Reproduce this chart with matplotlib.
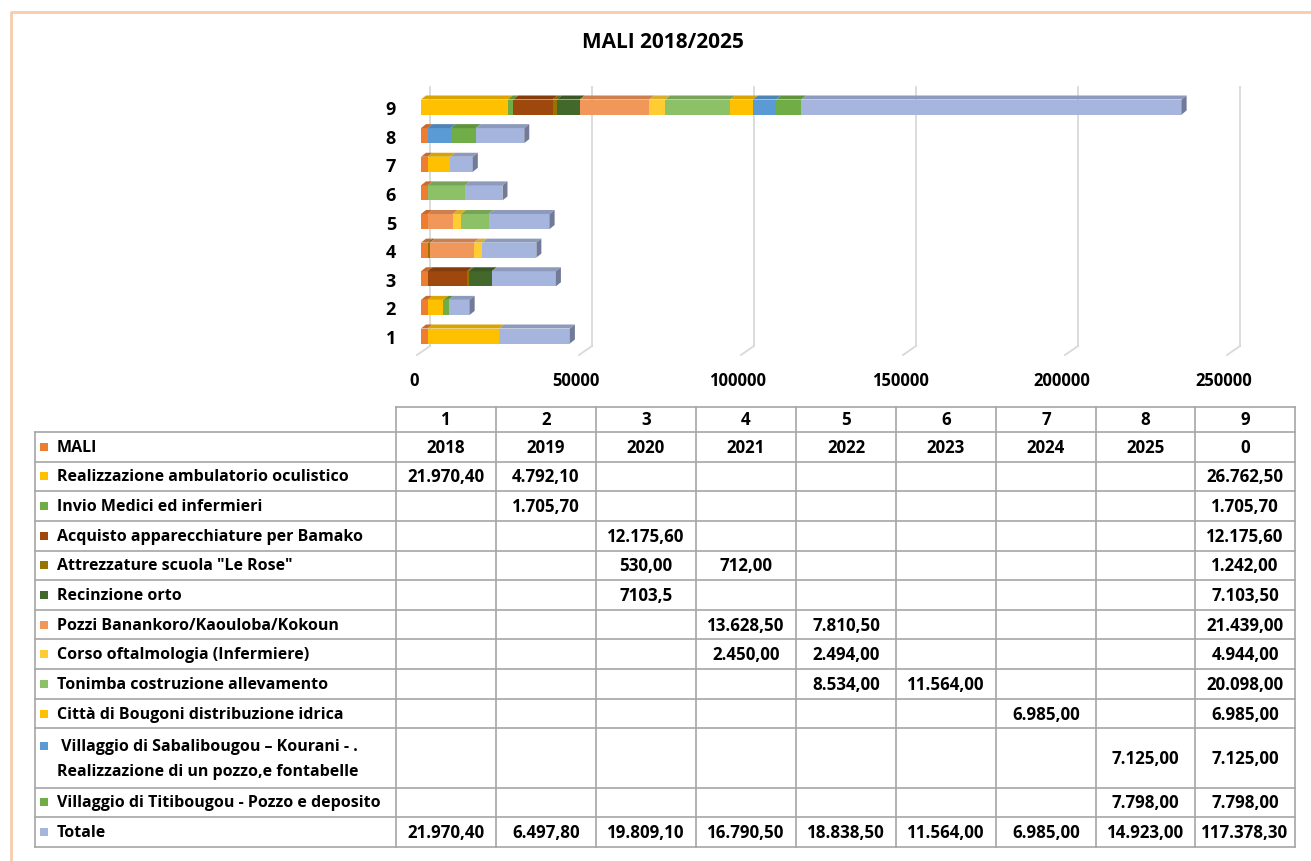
import numpy as np
import matplotlib
matplotlib.use("Agg")
import matplotlib.pyplot as plt
from matplotlib import transforms
from matplotlib.patches import Polygon, Rectangle

plt.rcParams['font.family'] = ['Open Sans', 'DejaVu Sans']
plt.rcParams['font.weight'] = 'bold'

# ---------------- data ----------------
categories = ["1", "2", "3", "4", "5", "6", "7", "8", "9"]
nan = np.nan
mali = [2018, 2019, 2020, 2021, 2022, 2023, 2024, 2025, 0]
ambulatorio = [21970.40, 4792.10, nan, nan, nan, nan, nan, nan, 26762.50]
medici = [nan, 1705.70, nan, nan, nan, nan, nan, nan, 1705.70]
bamako = [nan, nan, 12175.60, nan, nan, nan, nan, nan, 12175.60]
le_rose = [nan, nan, 530.00, 712.00, nan, nan, nan, nan, 1242.00]
orto = [nan, nan, 7103.5, nan, nan, nan, nan, nan, 7103.50]
pozzi = [nan, nan, nan, 13628.50, 7810.50, nan, nan, nan, 21439.00]
corso = [nan, nan, nan, 2450.00, 2494.00, nan, nan, nan, 4944.00]
tonimba = [nan, nan, nan, nan, 8534.00, 11564.00, nan, nan, 20098.00]
bougoni = [nan, nan, nan, nan, nan, nan, 6985.00, nan, 6985.00]
sabalibougou = [nan, nan, nan, nan, nan, nan, nan, 7125.00, 7125.00]
titibougou = [nan, nan, nan, nan, nan, nan, nan, 7798.00, 7798.00]
totale = [21970.40, 6497.80, 19809.10, 16790.50, 18838.50, 11564.00, 6985.00, 14923.00, 117378.30]

series_names = ["MALI", "Realizzazione ambulatorio oculistico", "Invio Medici ed infermieri",
                "Acquisto apparecchiature per Bamako", "Attrezzature scuola \"Le Rose\"",
                "Recinzione orto", "Pozzi Banankoro/Kaouloba/Kokoun",
                "Corso oftalmologia (Infermiere)", "Tonimba costruzione allevamento",
                "Città di Bougoni distribuzione idrica",
                " Villaggio di Sabalibougou – Kourani - .\nRealizzazione di un pozzo,e fontabelle",
                "Villaggio di Titibougou - Pozzo e deposito", "Totale"]
series_values = [mali, ambulatorio, medici, bamako, le_rose, orto, pozzi, corso,
                 tonimba, bougoni, sabalibougou, titibougou, totale]
series_colors = ["#ED7D31", "#FFC000", "#70AD47", "#9E480E", "#997300", "#43682B",
                 "#F1975A", "#FFCD33", "#8CC168", "#FFC000", "#5B9BD5", "#70AD47", "#A6B5DE"]
# cells whose text in the source table is not in the usual format
raw_cell_text = {(5, 2): "7103,5"}

title = "MALI 2018/2025"
xticks = [0, 50000, 100000, 150000, 200000, 250000]

FS = 11.5
FSN = 12.2

# ---------------- figure ----------------
W, H = 1311, 862
fig = plt.figure(figsize=(W / 100, H / 100), dpi=100)

# overlay in pixel coordinates for frame and table
ov = fig.add_axes([0, 0, 1, 1])
ov.set_xlim(0, W)
ov.set_ylim(H, 0)
ov.axis("off")

# chart-area border (peach)
ov.plot([11, 11, W], [H, 13, 13], color="#F8CBAD", lw=2, solid_capstyle="butt")

ov.text(663, 43, title, ha="center", va="center", fontsize=15, fontweight="bold")

# ---------------- bar chart ----------------
ax_l, ax_r, ax_t, ax_b = 421, 1231, 88, 355
ax = fig.add_axes([ax_l / W, 1 - ax_b / H, (ax_r - ax_l) / W, (ax_b - ax_t) / H])
ax.set_xlim(0, 250000)
ypos = np.arange(1, len(categories) + 1)
unit_px = 28.625
ax.set_ylim(1 - (ax_b - 337) / unit_px, 9 + (108 - ax_t) / unit_px)
for s in ax.spines.values():
    s.set_visible(False)
ax.patch.set_alpha(0)

px_x = 250000 / (ax_r - ax_l)
px_y = (ax.get_ylim()[1] - ax.get_ylim()[0]) / (ax_b - ax_t)

# gridlines (back wall + floor diagonal)
dpi_tr = fig.dpi_scale_trans
blend = transforms.blended_transform_factory(ax.transData, ax.transAxes)
for xv in xticks:
    back = blend + transforms.ScaledTranslation(9 / 100, 0, dpi_tr)
    ax.plot([xv, xv], [8 / (ax_b - ax_t), 1], color="#D9D9D9", lw=1.3, transform=back,
            clip_on=False, zorder=0)
    ax.plot([xv + 9 * px_x, xv - 4 * px_x], [8 / (ax_b - ax_t), -1 / (ax_b - ax_t)],
            color="#D9D9D9", lw=1.3, transform=blend, clip_on=False, zorder=0)

bar_h = 15 / unit_px
dx, dy = 5 * px_x, 4 * px_y


def darker(c, f):
    r, g, b = matplotlib.colors.to_rgb(c)
    return (r * f, g * f, b * f)


for i, yv in enumerate(ypos):
    left = 0.0
    last = None
    for vals, col in zip(series_values, series_colors):
        v = vals[i]
        if v is None or np.isnan(v) or v <= 0:
            continue
        ax.barh(yv, v, left=left, height=bar_h, color=col, edgecolor="none", zorder=2)
        top = yv + bar_h / 2
        ax.add_patch(Polygon([(left, top), (left + v, top), (left + v + dx, top + dy),
                              (left + dx, top + dy)], closed=True,
                             facecolor=darker(col, 0.85), edgecolor="none", zorder=2))
        left += v
        last = col
    if last is not None:
        bot = yv - bar_h / 2
        top = yv + bar_h / 2
        ax.add_patch(Polygon([(left, bot), (left, top), (left + dx, top + dy),
                              (left + dx, bot + dy)], closed=True,
                             facecolor=darker(last, 0.68), edgecolor="none", zorder=3))

ax.set_yticks(ypos, categories)
ax.set_xticks(xticks, [str(t) for t in xticks])
ax.tick_params(axis="both", length=0)
ax.tick_params(axis="y", pad=18, labelsize=13)
ax.tick_params(axis="x", pad=12, labelsize=12)
for lab in ax.get_xticklabels():
    lab.set_transform(lab.get_transform() + transforms.ScaledTranslation(-7 / 100, 0, dpi_tr))
    lab.set_fontweight("bold")
for lab in ax.get_yticklabels():
    lab.set_fontweight("bold")

# ---------------- data table ----------------
col_edges = [396, 496, 596, 696, 796, 896, 996, 1096, 1195, 1295]
tab_left = 35
header_top, header_bot = 408, 433
row_h = 29.64
row_units = [2 if "\n" in n else 1 for n in series_names]
row_edges = [header_bot]
for u in row_units:
    row_edges.append(row_edges[-1] + u * row_h)
grid_c = "#A6A6A6"
lw = 1.2


def fmt(v):
    s = f"{v:,.2f}"
    return s.replace(",", "X").replace(".", ",").replace("X", ".")


# header row
ov.plot([col_edges[0], col_edges[-1]], [header_top, header_top], color=grid_c, lw=lw)
for j, c in enumerate(categories):
    ov.text((col_edges[j] + col_edges[j + 1]) / 2, (header_top + header_bot) / 2, c,
            ha="center", va="center", fontsize=FSN, fontweight="bold")
for xe in col_edges:
    ov.plot([xe, xe], [header_top, row_edges[-1]], color=grid_c, lw=lw)
ov.plot([tab_left, tab_left], [header_bot, row_edges[-1]], color=grid_c, lw=lw)
for ye in row_edges:
    ov.plot([tab_left, col_edges[-1]], [ye, ye], color=grid_c, lw=lw)

for r, (name, vals, col) in enumerate(zip(series_names, series_values, series_colors)):
    y0, y1 = row_edges[r], row_edges[r + 1]
    yc = (y0 + y1) / 2
    if "\n" in name:
        l1, l2 = name.split("\n")
        ya, yb = yc - 12.5, yc + 12.5
        ov.add_patch(Rectangle((40, ya - 4), 8, 8, facecolor=col, edgecolor="none"))
        ov.text(57, ya, l1, ha="left", va="center", fontsize=FS, fontweight="bold")
        ov.text(57, yb, l2, ha="left", va="center", fontsize=FS, fontweight="bold")
    else:
        ov.add_patch(Rectangle((40, yc - 4), 8, 8, facecolor=col, edgecolor="none"))
        ov.text(57, yc, name, ha="left", va="center", fontsize=FS, fontweight="bold")
    for j, v in enumerate(vals):
        if v is None or np.isnan(v):
            continue
        if r == 0:
            txt = str(int(v))
        elif (r, j) in raw_cell_text:
            txt = raw_cell_text[(r, j)]
        else:
            txt = fmt(v)
        ov.text((col_edges[j] + col_edges[j + 1]) / 2, yc, txt, ha="center",
                va="center", fontsize=FSN, fontweight="bold")

fig.savefig("out.png", dpi=100)
